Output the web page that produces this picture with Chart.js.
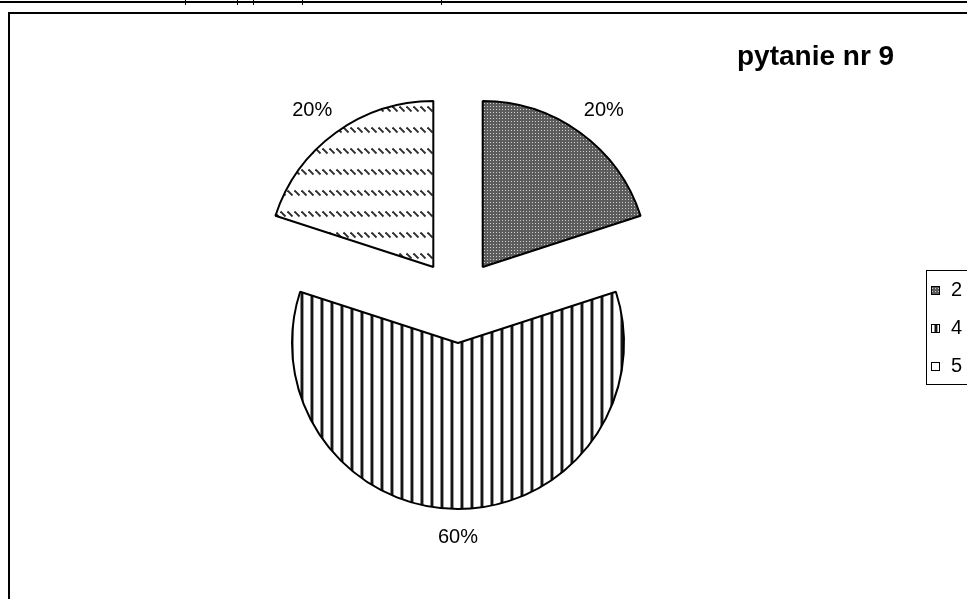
<!DOCTYPE html>
<html>
<head>
<meta charset="utf-8">
<script src="https://cdn.jsdelivr.net/npm/chart.js@4/dist/chart.umd.min.js"></script>
<style>
  html, body { margin: 0; padding: 0; background: #fff; }
  #wrap { width: 967px; height: 599px; }
</style>
</head>
<body>
<div id="wrap"><canvas id="pieChart" width="967" height="599"></canvas></div>
<script>
const chartTitle = "pytanie nr 9";
const answers = ["2", "4", "5"];
const shares = [20, 60, 20];

const explodeDistance = 42;
const labelGap = 20;
const labelFont = "20px 'Liberation Sans', Arial, sans-serif";
const titleFont = "bold 28px 'Liberation Sans', Arial, sans-serif";
const legendFont = "20px 'Liberation Sans', Arial, sans-serif";

const canvas = document.getElementById("pieChart");
const ctx = canvas.getContext("2d");

function makePattern(w, h, paint) {
  const tile = document.createElement("canvas");
  tile.width = w;
  tile.height = h;
  const g = tile.getContext("2d");
  g.fillStyle = "#fff";
  g.fillRect(0, 0, w, h);
  paint(g);
  return ctx.createPattern(tile, "repeat");
}

// fine grey checker
const checker = makePattern(3, 3, g => {
  g.fillStyle = "#5c5c5c";
  g.fillRect(0, 0, 3, 3);
  g.fillStyle = "#cfcfcf";
  g.fillRect(1, 1, 1, 1);
});

// vertical stripes
const stripes = makePattern(10, 4, g => {
  g.fillStyle = "#8c8c8c";
  g.fillRect(0, 0, 1, 4);
  g.fillStyle = "#161616";
  g.fillRect(1, 0, 2, 4);
  g.fillStyle = "#9a9a9a";
  g.fillRect(3, 0, 1, 4);
});

// rows of short backslash dashes
const dashes = makePattern(7, 21, g => {
  g.strokeStyle = "#2e2e2e";
  g.lineWidth = 1.8;
  g.beginPath();
  g.moveTo(0.5, 1.5);
  g.lineTo(5.5, 6.5);
  g.stroke();
});

const fills = [checker, stripes, dashes];

// pull every slice away from the centre along its bisector
const explode = {
  id: "explode",
  afterDatasetUpdate(chart, args) {
    chart.getDatasetMeta(args.index).data.forEach(arc => {
      const mid = (arc.startAngle + arc.endAngle) / 2;
      arc.x += Math.cos(mid) * explodeDistance;
      arc.y += Math.sin(mid) * explodeDistance;
    });
  }
};

// sheet frame, percent labels, title and legend
const decor = {
  id: "decor",
  beforeDraw(chart) {
    const c = chart.ctx;
    c.save();
    c.fillStyle = "#000";
    c.fillRect(0, 1, chart.width, 2);
    [185, 237, 253, 302, 441].forEach(x => c.fillRect(x, 0, 1, 5));
    c.strokeStyle = "#000";
    c.lineWidth = 2;
    c.strokeRect(9, 13, chart.width + 20, chart.height + 20);
    c.restore();
  },
  afterDatasetsDraw(chart) {
    const c = chart.ctx;
    const meta = chart.getDatasetMeta(0);
    c.save();
    c.fillStyle = "#000";
    c.font = labelFont;
    c.textAlign = "center";
    c.textBaseline = "middle";
    meta.data.forEach((arc, i) => {
      const mid = (arc.startAngle + arc.endAngle) / 2;
      const text = shares[i] + "%";
      const hw = c.measureText(text).width / 2;
      const hh = 8;
      const d = arc.outerRadius + labelGap;
      const x = arc.x + Math.cos(mid) * d + Math.cos(mid) * hw;
      const y = arc.y + Math.sin(mid) * d + Math.sin(mid) * hh;
      c.fillText(text, x, y);
    });

    c.font = titleFont;
    c.textAlign = "left";
    c.fillText(chartTitle, 737, 57);

    // legend
    c.lineWidth = 1;
    c.strokeStyle = "#000";
    c.strokeRect(926.5, 270.5, 80, 114);
    c.font = legendFont;
    answers.forEach((label, i) => {
      const y = 290 + i * 38;
      const px = 931, py = y - 4;
      // shift the pattern origin so each swatch shows a stripe mid-box
      // and the sparse dash rows fall outside it
      c.save();
      c.translate(px + 3, py + 10);
      c.fillStyle = fills[i];
      c.fillRect(-3, -10, 9, 9);
      c.restore();
      c.strokeRect(px + 0.5, py + 0.5, 8, 8);
      c.fillStyle = "#000";
      c.fillText(label, 951, y);
    });
    c.restore();
  }
};

new Chart(ctx, {
  type: "pie",
  data: {
    labels: answers,
    datasets: [{
      data: shares,
      backgroundColor: fills,
      borderColor: "#000",
      borderWidth: 2,
      radius: 166
    }]
  },
  options: {
    responsive: false,
    animation: false,
    events: [],
    layout: { padding: { left: 0, right: 51, top: 3, bottom: 0 } },
    plugins: {
      legend: { display: false },
      title: { display: false },
      tooltip: { enabled: false }
    }
  },
  plugins: [explode, decor]
});
</script>
</body>
</html>
